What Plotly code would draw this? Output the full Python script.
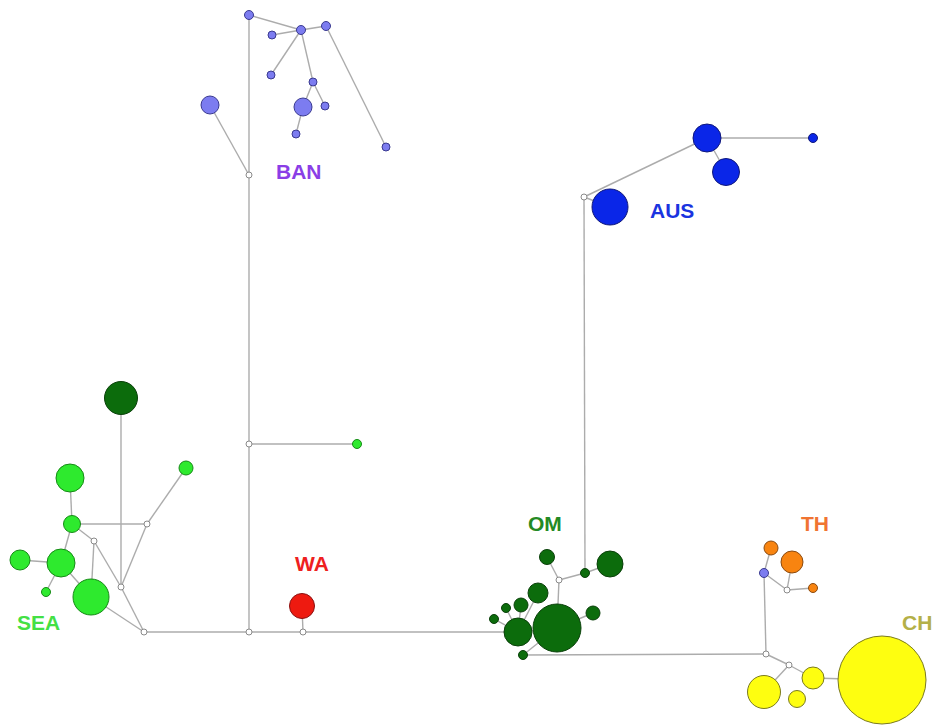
import plotly.graph_objects as go

# ---- Node data (haplotype network layout, pixel-space coordinates) ----
node_names = [
    # BAN
    "b_top", "b_hub", "b_r1", "b_l1", "b_l2", "b_m1", "b_big", "b_m2", "b_m3", "b_far", "b_left",
    # AUS
    "a_big", "a_1", "a_2", "a_small",
    # SEA
    "s_dark", "s_1", "s_2", "s_3", "s_4", "s_5", "s_6", "s_big", "s_far",
    # WA
    "w_1",
    # OM
    "o_top", "o_r", "o_1", "o_2", "o_3", "o_4", "o_5", "o_6", "o_big", "o_rr", "o_bot",
    # TH
    "t_1", "t_2", "t_3", "t_purple",
    # CH
    "c_1", "c_2", "c_3", "c_big",
    # median vectors (hollow)
    "h_ban", "h_mid", "h_root", "h_sea1", "h_sea2", "h_sea3", "h_sea4", "h_wa",
    "h_aus", "h_om", "h_th", "h_ch1", "h_ch2",
]
node_x = [
    249, 301, 326, 272, 271, 313, 303, 325, 296, 386, 210,
    610, 707, 726, 813,
    121, 186, 70, 72, 20, 61, 46, 91, 357,
    302,
    547, 610, 538, 521, 506, 494, 518, 585, 557, 593, 523,
    771, 792, 813, 764,
    813, 764, 797, 882,
    249, 249, 249, 147, 94, 121, 144, 303,
    584, 559, 787, 766, 789,
]
node_y = [
    15, 30, 26, 35, 75, 82, 107, 106, 134, 147, 105,
    207, 138, 172, 138,
    398, 468, 478, 524, 560, 563, 592, 597, 444,
    606,
    557, 564, 593, 605, 608, 619, 632, 573, 628, 613, 655,
    548, 562, 588, 573,
    678, 692, 699, 680,
    175, 444, 632, 524, 541, 587, 632, 632,
    197, 580, 590, 654, 665,
]
node_size = [
    9, 9, 9, 8, 8, 8, 18, 8, 8, 8, 18,
    36, 28, 27, 9,
    33, 14, 28, 17, 20, 28, 9, 36, 9,
    25,
    15, 26, 20, 14, 9, 9, 28, 9, 48, 14, 9,
    14, 22, 9, 9,
    22, 33, 17, 88,
    6, 6, 6, 6, 6, 6, 6, 6,
    6, 6, 6, 6, 6,
]
node_group = (
    ["BAN"] * 11 + ["AUS"] * 4 + ["OM"] + ["SEA"] * 8 + ["WA"]
    + ["OM"] * 11 + ["TH"] * 3 + ["BAN"] + ["CH"] * 4 + ["MV"] * 13
)

edges = [
    ("b_top", "b_hub"), ("b_hub", "b_r1"), ("b_hub", "b_l1"), ("b_hub", "b_l2"),
    ("b_hub", "b_m1"), ("b_m1", "b_big"), ("b_m1", "b_m2"), ("b_big", "b_m3"),
    ("b_r1", "b_far"), ("b_left", "h_ban"),
    ("b_top", "h_ban"), ("h_ban", "h_mid"), ("h_mid", "h_root"), ("h_mid", "s_far"),
    ("s_dark", "h_sea3"), ("s_2", "s_3"), ("s_3", "h_sea1"), ("h_sea1", "s_1"),
    ("h_sea1", "h_sea3"), ("s_3", "s_5"), ("s_3", "h_sea2"), ("h_sea2", "h_sea3"),
    ("h_sea2", "s_big"), ("h_sea3", "h_sea4"), ("s_4", "s_5"), ("s_5", "s_6"),
    ("s_5", "s_big"), ("s_big", "h_sea4"),
    ("h_sea4", "h_root"), ("h_root", "h_wa"), ("h_wa", "w_1"), ("h_wa", "o_5"),
    ("o_5", "o_4"), ("o_5", "o_3"), ("o_5", "o_2"), ("o_5", "o_1"), ("o_5", "o_big"),
    ("o_big", "o_bot"), ("o_big", "o_rr"), ("o_big", "h_om"), ("h_om", "o_top"),
    ("h_om", "o_6"), ("o_6", "o_r"), ("o_6", "h_aus"),
    ("h_aus", "a_big"), ("h_aus", "a_1"), ("a_1", "a_2"), ("a_1", "a_small"),
    ("o_bot", "h_ch1"), ("h_ch1", "t_purple"), ("t_purple", "t_1"), ("t_purple", "h_th"),
    ("h_th", "t_2"), ("h_th", "t_3"),
    ("h_ch1", "h_ch2"), ("h_ch2", "c_2"), ("h_ch2", "c_1"), ("c_1", "c_big"),
]

group_fill = {
    "BAN": "#7c7cf0", "AUS": "#0a26e8", "SEA": "#2eea2e", "WA": "#ee1a10",
    "OM": "#0c6c0c", "TH": "#f88410", "CH": "#fefe10", "MV": "#ffffff",
}
group_line = {
    "BAN": "#3a3a90", "AUS": "#10187a", "SEA": "#168a16", "WA": "#8a1010",
    "OM": "#0a400a", "TH": "#8a4a10", "CH": "#7a7a20", "MV": "#8a8a8a",
}

label_text = ["BAN", "AUS", "OM", "WA", "TH", "CH", "SEA"]
label_x = [299, 672, 545, 312, 815, 917, 38]
label_y = [171, 210, 523, 563, 523, 622, 622]
label_color = ["#8a3ee6", "#1a34e0", "#248a24", "#ee2020", "#f07432", "#b4b048", "#44e044"]

# ---- Build figure ----
idx = {n: i for i, n in enumerate(node_names)}
ex, ey = [], []
for a, b in edges:
    ex += [node_x[idx[a]], node_x[idx[b]], None]
    ey += [node_y[idx[a]], node_y[idx[b]], None]

fig = go.Figure()
fig.add_trace(go.Scatter(x=ex, y=ey, mode="lines",
                         line=dict(color="#acacac", width=1.4),
                         hoverinfo="skip", showlegend=False))

# draw larger nodes first so smaller ones remain visible
order = sorted(range(len(node_names)), key=lambda i: -node_size[i])
fig.add_trace(go.Scatter(
    x=[node_x[i] for i in order], y=[node_y[i] for i in order],
    mode="markers",
    marker=dict(size=[node_size[i] for i in order],
                color=[group_fill[node_group[i]] for i in order],
                line=dict(color=[group_line[node_group[i]] for i in order], width=1),
                opacity=1),
    text=[node_names[i] for i in order], hoverinfo="text", showlegend=False))

for t, x, y, c in zip(label_text, label_x, label_y, label_color):
    fig.add_annotation(x=x, y=y, text=f"<b>{t}</b>", showarrow=False,
                       font=dict(family="Liberation Sans, Arial", size=21, color=c),
                       xanchor="center", yanchor="middle")

fig.update_layout(
    width=937, height=726, margin=dict(l=0, r=0, t=0, b=0),
    paper_bgcolor="white", plot_bgcolor="white",
    xaxis=dict(range=[0, 937], visible=False, fixedrange=True),
    yaxis=dict(range=[726, 0], visible=False, fixedrange=True),
)
fig.write_html(
    "out.html",
    config={"displayModeBar": False},
    post_script="document.body.style.margin='0';document.body.style.overflow='hidden';",
)
